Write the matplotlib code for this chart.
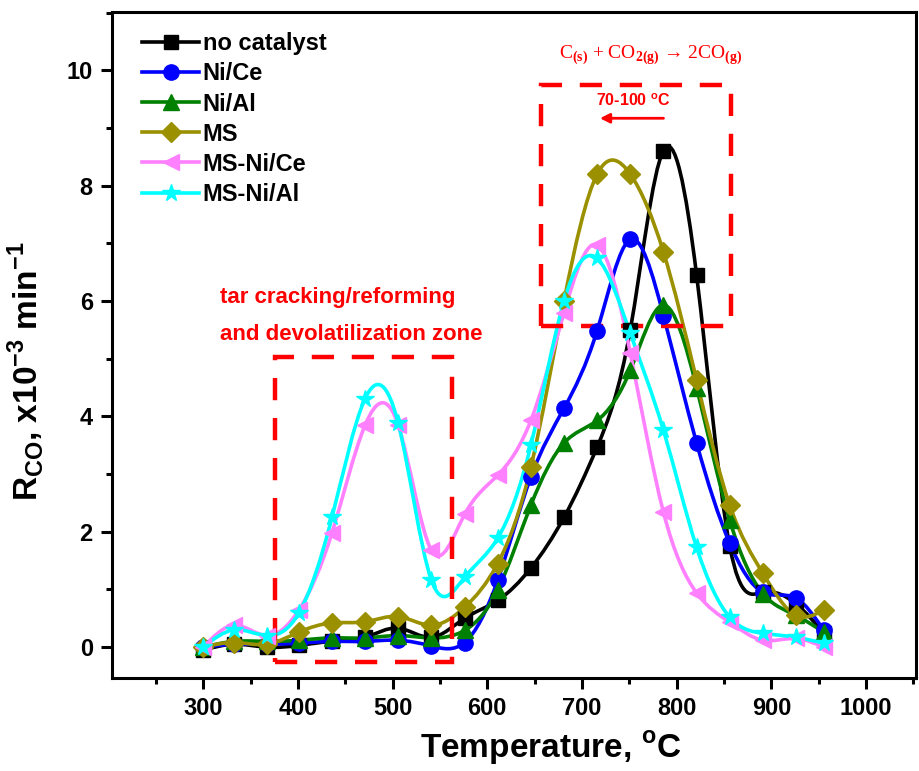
import numpy as np
import matplotlib
matplotlib.use("Agg")
import matplotlib.pyplot as plt
from matplotlib.path import Path
from matplotlib.patches import PathPatch, Rectangle
from matplotlib.lines import Line2D
from matplotlib.ticker import MultipleLocator

plt.rcParams['font.family'] = ['Liberation Sans', 'DejaVu Sans']
plt.rcParams['font.weight'] = 'bold'
plt.rcParams['mathtext.fontset'] = 'custom'
plt.rcParams['mathtext.rm'] = 'Liberation Serif'
plt.rcParams['mathtext.bf'] = 'Liberation Sans:bold'

# temperatura, C
temps = [300, 333, 367, 401, 436, 471, 506, 541, 576, 611, 646, 681, 716, 751, 786, 821, 856, 891, 926, 955]

# R_CO, x10^-3 min^-1
no_catalyst = [-0.05, 0.05, 0.0, 0.03, 0.1, 0.17, 0.33, 0.17, 0.5, 0.81, 1.37, 2.25, 3.47, 5.5, 8.61, 6.45, 1.75, 0.95, 0.75, 0.25]
ni_ce = [0.0, 0.05, 0.05, 0.07, 0.1, 0.1, 0.12, 0.02, 0.08, 1.16, 2.95, 4.14, 5.49, 7.07, 5.75, 3.54, 1.8, 0.95, 0.85, 0.3]
ni_al = [0.0, 0.1, 0.1, 0.12, 0.16, 0.16, 0.2, 0.16, 0.29, 0.99, 2.46, 3.54, 3.93, 4.8, 5.93, 4.5, 2.2, 0.93, 0.55, 0.26]
ms = [0.0, 0.08, 0.05, 0.26, 0.42, 0.44, 0.53, 0.38, 0.69, 1.45, 3.12, 6.0, 8.2, 8.2, 6.85, 4.63, 2.46, 1.28, 0.55, 0.64]
ms_ni_ce = [0.0, 0.38, 0.2, 0.64, 1.98, 3.85, 3.85, 1.68, 2.3, 2.98, 3.93, 5.8, 6.97, 5.1, 2.34, 0.94, 0.43, 0.12, 0.15, 0.0]
ms_ni_al = [0.0, 0.3, 0.2, 0.59, 2.25, 4.31, 3.88, 1.16, 1.21, 1.89, 3.5, 6.0, 6.74, 5.44, 3.76, 1.73, 0.52, 0.24, 0.17, 0.07]

labels = ['no catalyst', 'Ni/Ce', 'Ni/Al', 'MS', 'MS-Ni/Ce', 'MS-Ni/Al']
series = [no_catalyst, ni_ce, ni_al, ms, ms_ni_ce, ms_ni_al]
colors = ['black', '#0000FF', '#008000', '#9A9000', '#FF80FF', '#00FFFF']
markers = ['s', 'o', '^', 'D', '<', '*']
msizes = [10, 11, 11, 10, 11, 13]


def spline_path(x, y):
    # natural cubic spline -> bezier segments (kak v Origin)
    x = np.asarray(x, float)
    y = np.asarray(y, float)
    n = len(x)
    h = np.diff(x)
    A = np.zeros((n, n))
    b = np.zeros(n)
    A[0, 0] = A[-1, -1] = 1
    for i in range(1, n - 1):
        A[i, i - 1] = h[i - 1]
        A[i, i] = 2 * (h[i - 1] + h[i])
        A[i, i + 1] = h[i]
        b[i] = 6 * ((y[i + 1] - y[i]) / h[i] - (y[i] - y[i - 1]) / h[i - 1])
    M = np.linalg.solve(A, b)
    m = np.zeros(n)
    for i in range(n - 1):
        m[i] = (y[i + 1] - y[i]) / h[i] - h[i] * (2 * M[i] + M[i + 1]) / 6
    m[-1] = (y[-1] - y[-2]) / h[-1] + h[-1] * (M[-2] + 2 * M[-1]) / 6
    verts = [(x[0], y[0])]
    codes = [Path.MOVETO]
    for i in range(n - 1):
        verts += [(x[i] + h[i] / 3, y[i] + h[i] * m[i] / 3),
                  (x[i + 1] - h[i] / 3, y[i + 1] - h[i] * m[i + 1] / 3),
                  (x[i + 1], y[i + 1])]
        codes += [Path.CURVE4] * 3
    return Path(verts, codes)


fig = plt.figure(figsize=(9.2, 7.71), dpi=100)
ax = fig.add_axes([0.122, 0.121, 0.874, 0.864])

handles = []
for ys, lab, c, mk, s in zip(series, labels, colors, markers, msizes):
    ax.add_patch(PathPatch(spline_path(temps, ys), fill=False, edgecolor=c, lw=2.6))
    ax.plot(temps, ys, ls='none', marker=mk, ms=s, color=c, mec=c)
    handles.append(Line2D([], [], color=c, lw=2.6, marker=mk, ms=s, mec=c))

# zony
red = '#FF0000'
ax.add_patch(Rectangle((376, -0.25), 187, 5.28, fill=False, edgecolor=red,
                       lw=3.2, linestyle=(0, (5, 4))))
ax.add_patch(Rectangle((657, 5.57), 200, 4.17, fill=False, edgecolor=red,
                       lw=3.2, linestyle=(0, (5, 4))))

ax.text(318, 6.07, 'tar cracking/reforming', color=red, fontsize=16,
        fontweight='bold', ha='left', va='center')
ax.text(318, 5.42, 'and devolatilization zone', color=red, fontsize=16,
        fontweight='bold', ha='left', va='center')

ax.annotate('', xy=(716, 9.17), xytext=(789, 9.17),
            arrowprops=dict(arrowstyle='-|>', color=red, lw=2, mutation_scale=14))
ax.text(754, 9.47, '70-100 $^{\\mathbf{o}}$C', color=red, fontsize=11.5,
        fontweight='bold', ha='center', va='center')
ax.text(772, 10.26, 'C$_{\\mathrm{(s)}}$ + CO$_{\\mathrm{2(g)}}$ \u2192 2CO$_{\\mathrm{(g)}}$',
        color=red, fontsize=14, fontweight='normal', family='Liberation Serif',
        ha='center', va='center')

ax.set_xlim(204, 1053)
ax.set_ylim(-0.53, 11.02)
ax.xaxis.set_major_locator(MultipleLocator(100))
ax.xaxis.set_minor_locator(MultipleLocator(50))
ax.yaxis.set_major_locator(MultipleLocator(2))
ax.yaxis.set_minor_locator(MultipleLocator(1))
ax.tick_params(which='major', direction='out', length=8, width=2.2, labelsize=17, pad=6)
ax.tick_params(which='minor', direction='out', length=4.5, width=2.2)
for sp in ax.spines.values():
    sp.set_linewidth(2.2)

ax.set_xlabel('Temperature, $^{\\mathbf{o}}$C', fontsize=24, fontweight='bold')
ax.xaxis.set_label_coords(0.545, -0.077)
ax.set_ylabel('R$_{\\mathbf{CO}}$, x10$^{\\mathbf{-3}}$ min$^{\\mathbf{-1}}$', fontsize=24,
              fontweight='bold')
ax.yaxis.set_label_coords(-0.083, 0.46)

ax.legend(handles, labels, loc='upper left', bbox_to_anchor=(0.02, 0.99), frameon=False,
          prop={'weight': 'bold', 'size': 17}, handlelength=2.4, handletextpad=0.15,
          labelspacing=0.3, borderaxespad=0.2)

fig.savefig('out.png', dpi=100)
